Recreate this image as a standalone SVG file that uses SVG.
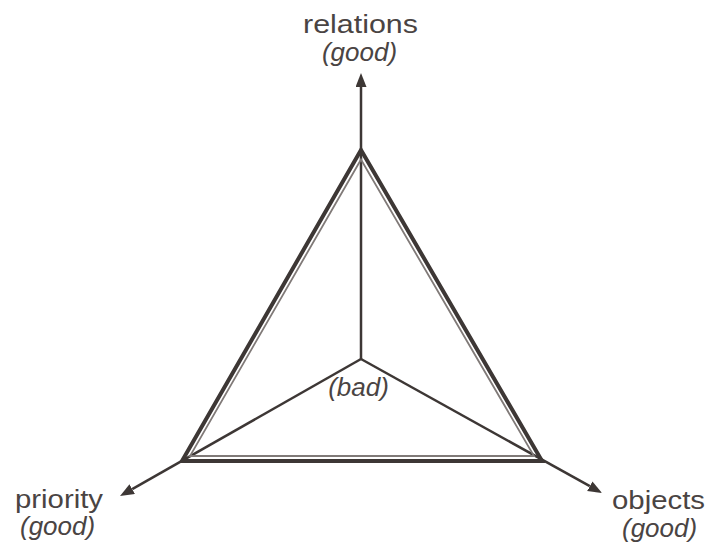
<svg xmlns="http://www.w3.org/2000/svg" width="714" height="554" viewBox="0 0 714 554">
<style>
.lbl{font-family:"Liberation Sans",Arial,sans-serif;font-size:26px;fill:#4a4443}
.it{font-style:italic}
.ax{stroke:#3d3735;stroke-width:2.5;fill:none}
.outer{stroke:#3d3735;stroke-width:4;fill:none;stroke-linejoin:miter}
.inner{stroke:#807a78;stroke-width:1.8;fill:none}
</style>
<defs>
<marker id="ah" markerUnits="userSpaceOnUse" markerWidth="15" markerHeight="12" refX="0" refY="5.5" orient="auto">
<path d="M0,0 L14,5.5 L0,11 z" fill="#3d3735"/>
</marker>
</defs>
<rect width="714" height="554" fill="#ffffff"/>
<g id="connectors">
<line class="ax" x1="361" y1="359" x2="361" y2="87" marker-end="url(#ah)"/>
<line class="ax" x1="361" y1="359" x2="132.2" y2="489.1" marker-end="url(#ah)"/>
<line class="ax" x1="361" y1="359" x2="589.8" y2="486.2" marker-end="url(#ah)"/>
</g>
<g id="triangle">
<polygon class="outer" points="361,150 182,461 542,461"/>
<polygon class="inner" points="361,159.5 190,456 534,456"/>
</g>
<g id="relations">
<text class="lbl" x="360.5" y="33" text-anchor="middle" textLength="115" lengthAdjust="spacingAndGlyphs">relations</text>
<text class="lbl it" x="359.5" y="61" text-anchor="middle">(good)</text>
</g>
<g id="priority">
<text class="lbl" x="15" y="508" textLength="88" lengthAdjust="spacingAndGlyphs">priority</text>
<text class="lbl it" x="20" y="535">(good)</text>
</g>
<g id="objects">
<text class="lbl" x="612" y="509" textLength="93" lengthAdjust="spacingAndGlyphs">objects</text>
<text class="lbl it" x="622" y="537">(good)</text>
</g>
<g id="center">
<text class="lbl it" x="358.5" y="396" text-anchor="middle">(bad)</text>
</g>
</svg>
